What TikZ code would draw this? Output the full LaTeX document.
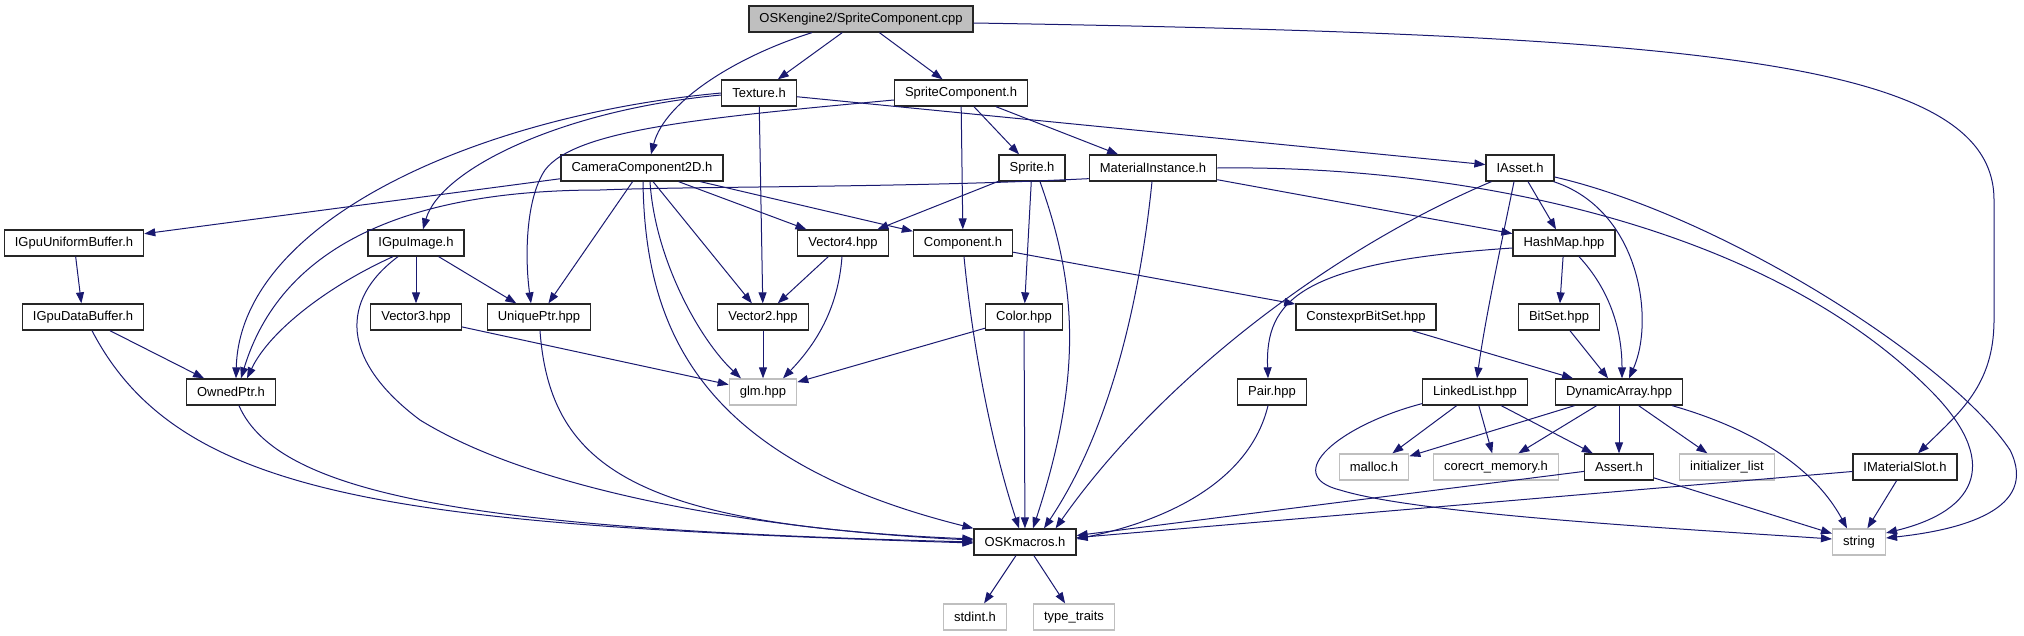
\documentclass[tikz,border=0pt]{standalone}
\usepackage{fontspec}
\setmainfont{Liberation Sans}
\usetikzlibrary{arrows.meta, positioning, calc}
\definecolor{doxyblue}{HTML}{191970}
\definecolor{doxygray}{HTML}{BFBFBF}

\begin{document}
\begin{tikzpicture}[x=1pt, y=-1pt,
    filebox/.style={draw=black!85, fill=white, line width=1.3pt, inner xsep=10.5pt, inner ysep=0pt,
      minimum height=26pt, font=\fontsize{13pt}{15pt}\selectfont},
    sysbox/.style={filebox, draw=doxygray},
    rootbox/.style={filebox, fill=doxygray},
    dep/.style={draw=doxyblue, line width=1pt, -{Triangle[length=11pt, width=8pt]}}]
  \useasboundingbox (0,0) rectangle (2024,635);
  % Row 0-2
  \node[rootbox] (cpp) at (861,19) {OSKengine2/SpriteComponent.cpp};
  \node[filebox] (texture) at (759,93) {Texture.h};
  \node[filebox] (spritecomp) at (961,93) {SpriteComponent.h};
  \node[filebox] (camera) at (642,168) {CameraComponent2D.h};
  \node[filebox] (sprite) at (1032,168) {Sprite.h};
  \node[filebox] (matinst) at (1153,168) {MaterialInstance.h};
  \node[filebox] (iasset) at (1520,168) {IAsset.h};
  % Row 3-4
  \node[filebox] (iunibuf) at (74,243) {IGpuUniformBuffer.h};
  \node[filebox] (igpuimage) at (416,243) {IGpuImage.h};
  \node[filebox] (vec4) at (843,243) {Vector4.hpp};
  \node[filebox] (component) at (963,243) {Component.h};
  \node[filebox] (hashmap) at (1564,243) {HashMap.hpp};
  \node[filebox] (idatabuf) at (83,317) {IGpuDataBuffer.h};
  \node[filebox] (vec3) at (416,317) {Vector3.hpp};
  \node[filebox] (uniqueptr) at (539,317) {UniquePtr.hpp};
  \node[filebox] (vec2) at (763,317) {Vector2.hpp};
  \node[filebox] (color) at (1024,317) {Color.hpp};
  \node[filebox] (constexpr) at (1366,317) {ConstexprBitSet.hpp};
  \node[filebox] (bitset) at (1559,317) {BitSet.hpp};
  % Row 5-6
  \node[filebox] (ownedptr) at (231,392) {OwnedPtr.h};
  \node[sysbox] (glm) at (763,392) {glm.hpp};
  \node[filebox] (pair) at (1272,392) {Pair.hpp};
  \node[filebox] (linkedlist) at (1475,392) {LinkedList.hpp};
  \node[filebox] (dynarray) at (1619,392) {DynamicArray.hpp};
  \node[sysbox] (malloc) at (1374,467) {malloc.h};
  \node[sysbox] (corecrt) at (1496,467) {corecrt\_memory.h};
  \node[filebox] (assert) at (1619,467) {Assert.h};
  \node[sysbox] (initlist) at (1727,467) {initializer\_list};
  \node[filebox] (imatslot) at (1905,467) {IMaterialSlot.h};
  % Row 7-8
  \node[filebox] (oskmacros) at (1025,542) {OSKmacros.h};
  \node[sysbox] (stringh) at (1859,542) {string};
  \node[sysbox] (stdint) at (975,617) {stdint.h};
  \node[sysbox] (typetraits) at (1074,617) {type\_traits};

  % Straight edges
  \foreach \a/\b in {cpp/texture, cpp/spritecomp, texture/iasset, texture/vec2,
      spritecomp/component, spritecomp/sprite, spritecomp/matinst,
      camera/iunibuf, camera/uniqueptr, camera/vec4, camera/component, camera/vec2,
      iunibuf/idatabuf, idatabuf/ownedptr, igpuimage/vec3, igpuimage/uniqueptr,
      vec3/glm, vec4/vec2, vec2/glm, sprite/vec4, sprite/color,
      matinst/hashmap, iasset/hashmap, hashmap/bitset, component/constexpr,
      color/glm, color/oskmacros, constexpr/dynarray, bitset/dynarray,
      linkedlist/malloc, linkedlist/corecrt, linkedlist/assert,
      dynarray/malloc, dynarray/corecrt, dynarray/assert, dynarray/initlist,
      assert/oskmacros, assert/stringh, imatslot/oskmacros, imatslot/stringh,
      oskmacros/stdint, oskmacros/typetraits}
    \draw[dep] (\a) -- (\b);

  % Curved edges
  \draw[dep] ($(cpp.south)+(-49,0)$) .. controls (740,55) and (665,100) .. ($(camera.north)+(9,0)$);
  \draw[dep] ($(cpp.east)+(0,4)$) .. controls (1700,35) and (1994,60) .. (1994,200)
    -- (1994,320) .. controls (1994,385) and (1960,412) .. ($(imatslot.north)+(13,0)$);
  \draw[dep] ($(texture.west)+(0,2)$) .. controls (560,110) and (440,170) .. ($(igpuimage.north)+(7,0)$);
  \draw[dep] (texture.west) .. controls (480,115) and (240,220) .. ($(ownedptr.north)+(5,0)$);
  \draw[dep] ($(spritecomp.west)+(0,7)$) .. controls (700,118) and (575,130) .. (545,170)
    .. controls (525,200) and (525,260) .. ($(uniqueptr.north)+(-8,0)$);
  \draw[dep] ($(camera.south)+(8,0)$) .. controls (655,260) and (700,340) .. ($(glm.north)+(-22,0)$);
  \draw[dep] ($(camera.south)+(1,0)$) .. controls (645,330) and (700,460) .. (oskmacros.north west);
  \draw[dep] ($(idatabuf.south)+(9,0)$) .. controls (180,500) and (400,525) .. ($(oskmacros.west)+(0,1)$);
  \draw[dep] ($(ownedptr.south)+(8,0)$) .. controls (280,500) and (500,530) .. (oskmacros.west);
  \draw[dep] ($(igpuimage.south)+(-23,0)$) .. controls (330,285) and (270,330) .. ($(ownedptr.north)+(16,0)$);
  \draw[dep] ($(igpuimage.south)+(-18,0)$) .. controls (340,300) and (340,360) .. (420,420)
    .. controls (550,500) and (800,532) .. ($(oskmacros.west)+(0,-2)$);
  \draw[dep] ($(uniqueptr.south)+(1,0)$) .. controls (550,470) and (640,525) .. ($(oskmacros.west)+(0,-3)$);
  \draw[dep] ($(vec4.south)+(-1,0)$) .. controls (838,310) and (815,345) .. ($(glm.north)+(20,0)$);
  \draw[dep] ($(sprite.south)+(8,0)$) .. controls (1075,280) and (1085,370) .. ($(oskmacros.north)+(8,0)$);
  \draw[dep] ($(matinst.south west)+(0,-3)$) .. controls (900,188) and (700,186) .. (600,190)
    .. controls (400,190) and (280,250) .. ($(ownedptr.north)+(10,0)$);
  \draw[dep] ($(matinst.south)+(-1,0)$) .. controls (1140,300) and (1110,430) .. ($(oskmacros.north)+(19,0)$);
  \draw[dep] (matinst.east) .. controls (1450,165) and (1760,220) .. (1930,390)
    .. controls (2000,460) and (1980,510) .. ($(stringh.east)+(0,-9)$);
  \draw[dep] ($(iasset.south west)+(6,0)$) .. controls (1330,250) and (1160,380) .. ($(oskmacros.north east)+(-21,0)$);
  \draw[dep] ($(iasset.south)+(-6,0)$) .. controls (1500,250) and (1485,320) .. ($(linkedlist.north)+(2,0)$);
  \draw[dep] ($(iasset.south east)+(-1,0)$) .. controls (1640,210) and (1655,320) .. ($(dynarray.north)+(10,0)$);
  \draw[dep] ($(iasset.east)+(0,9)$) .. controls (1720,215) and (1950,360) .. (2010,450)
    .. controls (2040,510) and (1960,530) .. ($(stringh.east)+(0,-4)$);
  \draw[dep] ($(hashmap.south)+(15,0)$) .. controls (1610,290) and (1622,330) .. ($(dynarray.north)+(3,0)$);
  \draw[dep] ($(hashmap.west)+(0,5)$) .. controls (1300,262) and (1265,300) .. ($(pair.north)+(-4,0)$);
  \draw[dep] ($(component.south)+(1,0)$) .. controls (972,340) and (990,440) .. ($(oskmacros.north)+(-6,0)$);
  \draw[dep] ($(pair.south)+(-4,0)$) .. controls (1250,480) and (1170,520) .. ($(oskmacros.east)+(0,-3)$);
  \draw[dep] ($(linkedlist.south west)+(0,-2)$) .. controls (1340,425) and (1280,475) .. (1340,490)
    .. controls (1420,515) and (1700,530) .. ($(stringh.west)+(0,-3)$);
  \draw[dep] ($(dynarray.south east)+(-11,0)$) .. controls (1740,425) and (1810,460) .. ($(stringh.north)+(-12,0)$);
\end{tikzpicture}
\end{document}
